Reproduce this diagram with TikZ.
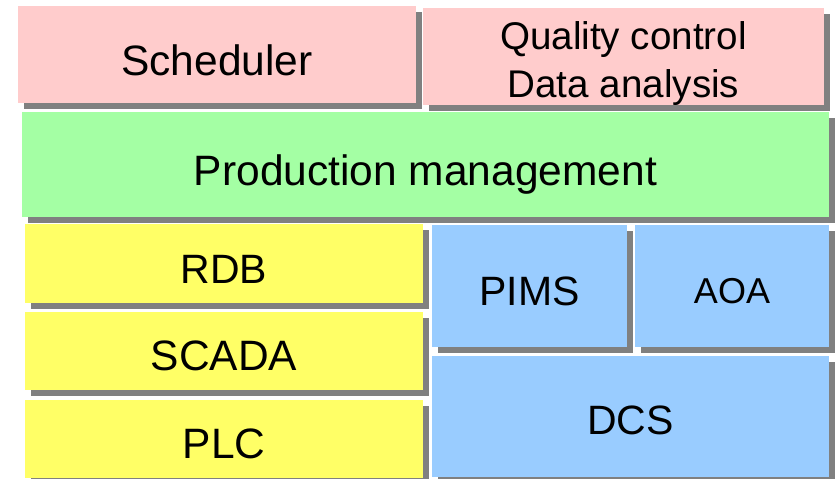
\documentclass[tikz,border=0pt]{standalone}
\usepackage{fontspec}
\setmainfont{Liberation Sans}
\usetikzlibrary{shadows}
\definecolor{pinkc}{HTML}{FFCCCC}
\definecolor{greenc}{HTML}{A4FFA4}
\definecolor{yellowc}{HTML}{FFFF66}
\definecolor{bluec}{HTML}{99CCFF}
\definecolor{shadowc}{HTML}{808080}
\tikzset{
  box/.style={rectangle, inner sep=0pt, draw=none,
    drop shadow={shadow xshift=6pt, shadow yshift=-6pt, fill=shadowc, opacity=1},
    font=\fontsize{42.5}{48}\selectfont, text depth=0pt, text height=40pt},
  txt/.style={inner sep=0pt, anchor=base, font=\fontsize{38.6}{46}\selectfont}
}
\begin{document}
\begin{tikzpicture}[x=1pt,y=-1pt]
\useasboundingbox (0,0) rectangle (838,479);
\node[box, fill=pinkc, minimum width=398pt, minimum height=97pt, text height=41pt] (sched) at (217,54.5) {Scheduler};
\node[box, fill=pinkc, minimum width=401pt, minimum height=97pt] (qc) at (623.5,56.5) {};
\node[txt] (qc1) at (623.5,49) {Quality control};
\node[txt] (qc2) at (623.5,97) {Data analysis};
\node[box, fill=greenc, minimum width=807pt, minimum height=105pt, text height=41pt] (prod) at (425.5,164.5) {Production management};
\node[box, fill=yellowc, minimum width=398pt, minimum height=79pt, text height=39pt, font=\fontsize{41}{48}\selectfont] (rdb) at (224,263.5) {RDB};
\node[box, fill=yellowc, minimum width=398pt, minimum height=78pt, text height=38pt] (scada) at (224,351) {SCADA};
\node[box, fill=yellowc, minimum width=398pt, minimum height=78pt, text height=38pt] (plc) at (224,439) {PLC};
\node[box, fill=bluec, minimum width=195pt, minimum height=122pt, text height=38pt, font=\fontsize{41}{48}\selectfont] (pims) at (529.5,286) {PIMS};
\node[box, fill=bluec, minimum width=194pt, minimum height=122pt, text height=34pt, font=\fontsize{36}{42}\selectfont] (aoa) at (732,286) {AOA};
\node[box, fill=bluec, minimum width=397pt, minimum height=121pt, text height=35pt, font=\fontsize{41}{48}\selectfont] (dcs) at (630.5,416.5) {DCS};
\end{tikzpicture}
\end{document}
